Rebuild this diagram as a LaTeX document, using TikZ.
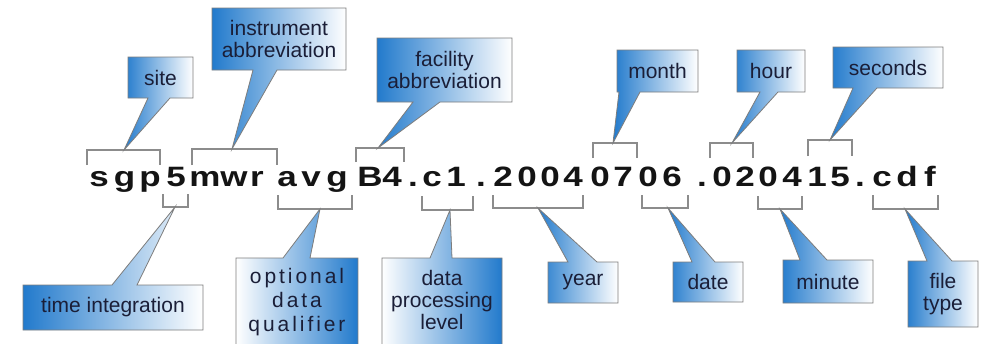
\documentclass[tikz,border=0pt]{standalone}
\usepackage{fontspec}
\setmainfont{Liberation Sans}
\newfontfamily\fnfont[FakeStretch=1.25]{Liberation Sans}
\newfontfamily\spacedfont[LetterSpace=14]{Liberation Sans}
\definecolor{calblue}{RGB}{34,122,204}
\definecolor{brgray}{RGB}{140,140,140}
\definecolor{bordgray}{RGB}{125,125,125}
\definecolor{txtnavy}{RGB}{26,30,55}
\tikzset{
  brk/.style={draw=brgray, line width=1.3pt},
  callL/.style={left color=calblue, right color=white, draw=bordgray, line width=0.8pt},
  callR/.style={left color=white, right color=calblue, draw=bordgray, line width=0.8pt},
  ctext/.style={font=\fontsize{21}{22}\selectfont, text=txtnavy, align=center, inner sep=0pt},
  ch/.style={font=\fnfont\bfseries\fontsize{28}{30}\selectfont, text=black!92, anchor=base, inner sep=0pt},
}
\begin{document}
\begin{tikzpicture}[x=1pt,y=-1pt]
\useasboundingbox (0,0) rectangle (986,343);
\fill[white] (0,0) rectangle (986,343);
% file name characters
\foreach \x/\c [count=\i] in {99/s,124.5/g,150/p,176/5,205/m,234/w,257/r,287/a,311/v,337/g,370/B,392/4,413/.,432/c,456/1,481/.,503/2,527/0,550/0,573/4,600/0,623/7,648/0,672/6,702/.,722/0,745/2,768/0,792/4,817/1,840/5,860/.,882/c,907/d,930/f}
  \node[ch] (c\i) at (\x,186) {\c};
% brackets above
\draw[brk] (87,165) -- (87,150) -- (160,150) -- (160,165); \coordinate (tsite) at (124,150);
\draw[brk] (192,165) -- (192,149) -- (277,149) -- (277,165); \coordinate (tinst) at (232,149);
\draw[brk] (356,162) -- (356,148) -- (404,148) -- (404,162); \coordinate (tfac) at (378,148);
\draw[brk] (593,158) -- (593,143) -- (637,143) -- (637,158); \coordinate (tmon) at (613,143);
\draw[brk] (710,158) -- (710,143) -- (753,143) -- (753,158); \coordinate (thour) at (732,143);
\draw[brk] (808,156) -- (808,140) -- (852,140) -- (852,156); \coordinate (tsec) at (830,140);
% brackets below
\draw[brk] (163,194) -- (163,207) -- (188,207) -- (188,194); \coordinate (ttime) at (175,207);
\draw[brk] (278,195) -- (278,209) -- (352,209) -- (352,195); \coordinate (topt) at (320,209);
\draw[brk] (422,196) -- (422,210) -- (473,210) -- (473,196); \coordinate (tdata) at (450,210);
\draw[brk] (493,195) -- (493,208) -- (583,208) -- (583,195); \coordinate (tyear) at (538,208);
\draw[brk] (642,195) -- (642,208) -- (688,208) -- (688,195); \coordinate (tdate) at (668,208);
\draw[brk] (758,196) -- (758,209) -- (802,209) -- (802,196); \coordinate (tmin) at (780,209);
\draw[brk] (873,195) -- (873,209) -- (938,209) -- (938,195); \coordinate (tfile) at (905,209);
% callouts above
\path[callL] (128,57) -- (193,57) -- (193,98) -- (170,98) -- (tsite) -- (148,98) -- (128,98) -- cycle;
\node[ctext] (site) at (160.5,77.5) {site};
\path[callL] (212,8) -- (346,8) -- (346,70) -- (277,70) -- (tinst) -- (253,70) -- (212,70) -- cycle;
\node[ctext] (inst) at (279,39) {instrument\\abbreviation};
\path[callL] (377,38) -- (512,38) -- (512,102) -- (440,102) -- (tfac) -- (413,102) -- (377,102) -- cycle;
\node[ctext] (fac) at (444.5,70) {facility\\abbreviation};
\path[callL] (617,50) -- (698,50) -- (698,92) -- (640,92) -- (tmon) -- (619,92) -- (617,92) -- cycle;
\node[ctext] (mon) at (657.5,71) {month};
\path[callL] (737,50) -- (805,50) -- (805,92) -- (778,92) -- (thour) -- (760,92) -- (737,92) -- cycle;
\node[ctext] (hour) at (771,71) {hour};
\path[callL] (833,47) -- (943,47) -- (943,88) -- (877,88) -- (tsec) -- (853,88) -- (833,88) -- cycle;
\node[ctext] (sec) at (888,67.5) {seconds};
% callouts below
\path[callL] (23,285) -- (112,285) -- (ttime) -- (137,285) -- (203,285) -- (203,330) -- (23,330) -- cycle;
\node[ctext] (time) at (113,307.5) {time integration};
\path[callR] (236,258) -- (283,258) -- (topt) -- (310,258) -- (358,258) -- (358,352) -- (236,352) -- cycle;
\node[ctext, font=\spacedfont\fontsize{21}{24}\selectfont] (opt) at (297,302) {optional\\data\\qualifier};
\path[callR] (382,258) -- (430,258) -- (tdata) -- (452,258) -- (502,258) -- (502,352) -- (382,352) -- cycle;
\node[ctext] (data) at (442,300) {data\\processing\\level};
\path[callL] (548,262) -- (568,262) -- (tyear) -- (597,262) -- (618,262) -- (618,303) -- (548,303) -- cycle;
\node[ctext] (year) at (583,282.5) {year};
\path[callL] (673,262) -- (692,262) -- (tdate) -- (715,262) -- (743,262) -- (743,302) -- (673,302) -- cycle;
\node[ctext] (date) at (708,282) {date};
\path[callL] (783,260) -- (800,260) -- (tmin) -- (827,260) -- (873,260) -- (873,303) -- (783,303) -- cycle;
\node[ctext] (min) at (828,281.5) {minute};
\path[callL] (908,261) -- (927,261) -- (tfile) -- (952,261) -- (978,261) -- (978,327) -- (908,327) -- cycle;
\node[ctext] (file) at (943,294) {file\\type};
\end{tikzpicture}
\end{document}
